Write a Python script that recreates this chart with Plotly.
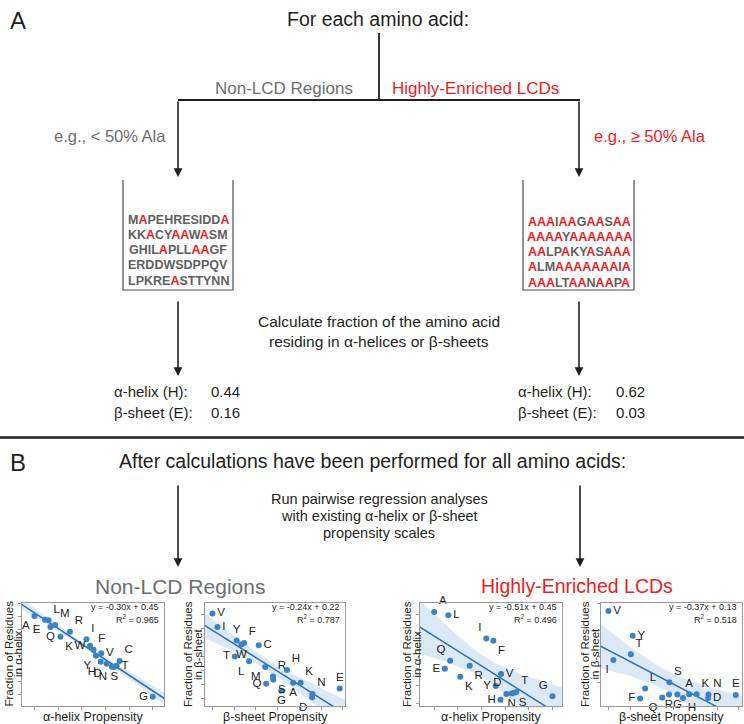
import numpy as np
import plotly.graph_objects as go

W, H = 744, 724
FONT = "Liberation Sans, Arial, sans-serif"
BLACK = "#231f20"
GRAY = "#6d6e71"
RED = "#ed1c24"
BLUE = "#3b82c4"
LINE_BLUE = "#2f6fb0"

# ---------------- data ----------------
amino_acids = ["A", "E", "L", "M", "Q", "R", "K", "I", "W", "F",
               "Y", "V", "H", "D", "C", "N", "S", "T", "G"]
alpha_propensity = [0.00, 0.09, 0.12, 0.175, 0.135, 0.30, 0.22, 0.44, 0.47, 0.50,
                    0.52, 0.565, 0.56, 0.61, 0.72, 0.655, 0.675, 0.695, 1.00]
beta_propensity = [0.260, 0.410, 0.118, 0.170, 0.173, 0.195, 0.284, 0.016, 0.093, 0.102,
                   0.078, 0.000, 0.240, 0.321, 0.149, 0.322, 0.196, 0.072, 0.222]
nonlcd_helix_fraction = [0.450, 0.436, 0.434, 0.416, 0.408, 0.390, 0.371, 0.361, 0.336, 0.321,
                         0.298, 0.307, 0.275, 0.267, 0.278, 0.256, 0.256, 0.259, 0.140]
nonlcd_sheet_fraction = [0.160, 0.153, 0.187, 0.180, 0.159, 0.168, 0.160, 0.230, 0.208, 0.210,
                         0.213, 0.247, 0.176, 0.142, 0.207, 0.146, 0.164, 0.193, 0.150]
lcd_helix_fraction = [0.620, 0.237, 0.598, None, 0.291, 0.257, 0.183, 0.440, None, 0.426,
                      0.120, 0.201, 0.027, 0.066, None, 0.070, 0.074, 0.079, 0.050]
lcd_sheet_fraction = [0.030, 0.028, 0.042, None, 0.023, 0.029, 0.030, 0.102, None, 0.021,
                      0.153, 0.205, 0.022, 0.022, None, 0.029, 0.055, 0.114, 0.029]

equations = ["y = -0.30x + 0.45", "y = -0.24x + 0.22", "y = -0.51x + 0.45", "y = -0.37x + 0.13"]
r_squared = ["0.965", "0.787", "0.496", "0.518"]

nonlcd_sequences = ["MAPEHRESIDDA", "KKACYAAWASM", "GHILAPLLAAGF", "ERDDWSDPPQV", "LPKREASTTYNN"]
lcd_sequences = ["AAAIAAGAASAA", "AAAAYAAAAAAA", "AALPAKYASAAA", "ALMAAAAAAAIA", "AAALTAANAAPA"]
example_values = {"nonlcd": ["0.44", "0.16"], "lcd": ["0.62", "0.03"]}

# ---------------- label placement (styling) ----------------
pos1 = {"A": "bottom left", "E": "bottom left", "L": "top right", "M": "top right", "Q": "bottom center",
        "R": "top right", "K": "bottom right", "I": "top right", "W": "middle left", "F": "top right",
        "Y": "bottom left", "V": "middle right", "H": "bottom left", "D": "bottom left", "C": "top right",
        "N": "bottom left", "S": "bottom center", "T": "middle right", "G": "middle left"}
pos2 = {"V": "middle right", "I": "middle right", "Y": "top center", "F": "top right", "W": "bottom center",
        "C": "middle right", "T": "middle left", "L": "bottom left", "M": "bottom left", "H": "top right",
        "R": "top right", "S": "bottom right", "Q": "middle left", "A": "bottom center", "K": "top right",
        "G": "bottom center", "N": "top right", "D": "bottom left", "E": "top center"}
pos3 = {"A": "top right", "L": "middle right", "I": "top left", "F": "bottom right", "Q": "top left",
        "E": "middle left", "R": "bottom right", "K": "bottom right", "V": "middle right", "Y": "middle left",
        "D": "top left", "N": "bottom center", "S": "bottom right", "T": "top right", "H": "middle left",
        "G": "top left"}
pos4 = {"V": "middle right", "Y": "middle right", "T": "top right", "I": "bottom left", "S": "top right",
        "L": "top right", "F": "middle left", "Q": "bottom left", "R": "bottom center", "G": "bottom center",
        "H": "bottom right", "A": "top center", "K": "top right", "N": "top right", "D": "middle right",
        "E": "top center"}


def px(x):
    return x / W


def py(y):
    return 1 - y / H


fig = go.Figure()

charts = [
    dict(x=alpha_propensity, y=nonlcd_helix_fraction, box=(22, 164), xr=(-0.105, 1.095), yr=(0.105, 0.50),
         dx=0.2, dy=0.05, pos=pos1, xt="α-helix Propensity", yt="in α-helix", tx=(8.5, 18)),
    dict(x=beta_propensity, y=nonlcd_sheet_fraction, box=(205, 345), xr=(-0.024, 0.427), yr=(0.131, 0.26),
         dx=0.07, dy=0.0175, pos=pos2, xt="β-sheet Propensity", yt="in β-sheet", tx=(188, 198)),
    dict(x=alpha_propensity, y=lcd_helix_fraction, box=(420, 562), xr=(-0.12, 1.08), yr=(-0.015, 0.68),
         dx=0.2, dy=0.12, pos=pos3, xt="α-helix Propensity", yt="in α-helix", tx=(407, 416.5)),
    dict(x=beta_propensity, y=lcd_sheet_fraction, box=(601, 742), xr=(-0.024, 0.43), yr=(0.005, 0.222),
         dx=0.07, dy=0.055, pos=pos4, xt="β-sheet Propensity", yt="in β-sheet", tx=(585, 594.5)),
]
TOP, BOT = 603, 706
layout_axes = {}
annotations = []


def add_ann(**kw):
    kw.setdefault("xref", "paper")
    kw.setdefault("yref", "paper")
    annotations.append(kw)


for i, c in enumerate(charts):
    n = i + 1
    xa = "x" if n == 1 else f"x{n}"
    ya = "y" if n == 1 else f"y{n}"
    pairs = [(aa, xv, yv) for aa, xv, yv in zip(amino_acids, c["x"], c["y"]) if yv is not None]
    labels = [p[0] for p in pairs]
    xs = np.array([p[1] for p in pairs])
    ys = np.array([p[2] for p in pairs])
    nn = len(xs)
    slope, inter = np.polyfit(xs, ys, 1)
    resid = ys - (slope * xs + inter)
    s = np.sqrt(np.sum(resid ** 2) / (nn - 2))
    sxx = np.sum((xs - xs.mean()) ** 2)
    tval = 2.11 if nn > 17 else 2.145
    grid = np.linspace(c["xr"][0] - 0.05, c["xr"][1] + 0.05, 120)
    fit = slope * grid + inter
    half = tval * s * np.sqrt(1 / nn + (grid - xs.mean()) ** 2 / sxx)
    fig.add_trace(go.Scatter(x=grid, y=fit - half, mode="lines", line=dict(width=0, color="rgba(0,0,0,0)"),
                             xaxis=xa, yaxis=ya, showlegend=False, hoverinfo="skip"))
    fig.add_trace(go.Scatter(x=grid, y=fit + half, mode="lines", line=dict(width=0, color="rgba(0,0,0,0)"),
                             fill="tonexty", fillcolor="rgba(110,165,220,0.25)",
                             xaxis=xa, yaxis=ya, showlegend=False, hoverinfo="skip"))
    fig.add_trace(go.Scatter(x=grid, y=fit, mode="lines", line=dict(width=1.5, color=LINE_BLUE),
                             xaxis=xa, yaxis=ya, showlegend=False, hoverinfo="skip"))
    fig.add_trace(go.Scatter(x=xs, y=ys, mode="markers+text", text=labels,
                             textposition=[c["pos"][l] for l in labels],
                             textfont=dict(family=FONT, size=11.5, color=BLACK),
                             marker=dict(size=6, color=BLUE), cliponaxis=False,
                             xaxis=xa, yaxis=ya, showlegend=False))
    l, r = c["box"]
    common = dict(showgrid=False, zeroline=False, showticklabels=False, ticks="outside", ticklen=3,
                  tickcolor="#999", showline=True, mirror=True, linecolor="#9a9a9a", linewidth=1)
    layout_axes["xaxis" if n == 1 else f"xaxis{n}"] = dict(domain=[px(l), px(r)], range=list(c["xr"]),
                                                           anchor=ya, dtick=c["dx"], tick0=0, **common)
    layout_axes["yaxis" if n == 1 else f"yaxis{n}"] = dict(domain=[py(BOT), py(TOP)], range=list(c["yr"]),
                                                           anchor=xa, dtick=c["dy"], tick0=0, **common)
    add_ann(x=px(r - 3), y=py(607), text=equations[i], xanchor="right", yanchor="middle",
            showarrow=False, font=dict(family=FONT, size=9, color=BLACK))
    add_ann(x=px(r - 3), y=py(619), text=f"R<sup>2</sup> = {r_squared[i]}", xanchor="right",
            yanchor="middle", showarrow=False, font=dict(family=FONT, size=9, color=BLACK))
    add_ann(x=px((l + r) / 2), y=py(717), text=c["xt"], xanchor="center", yanchor="middle",
            showarrow=False, font=dict(family=FONT, size=12.5, color=BLACK))
    add_ann(x=px(c["tx"][0]), y=py(654), text="Fraction of Residues", textangle=-90, xanchor="center",
            yanchor="middle", showarrow=False, font=dict(family=FONT, size=11.5, color=BLACK))
    add_ann(x=px(c["tx"][1]), y=py(654), text=c["yt"], textangle=-90, xanchor="center",
            yanchor="middle", showarrow=False, font=dict(family=FONT, size=11.5, color=BLACK))


def txt(x, y, text, size, color=BLACK, anchor="center"):
    add_ann(x=px(x), y=py(y), text=text, xanchor=anchor, yanchor="middle", showarrow=False,
            font=dict(family=FONT, size=size, color=color))


def arrow(x, y0, y1):
    add_ann(x=px(x), y=py(y1), ax=0, ay=-(y1 - y0), text="", showarrow=True, arrowhead=2,
            arrowsize=1.1, arrowwidth=1.6, arrowcolor=BLACK)


shapes = []


def line(x0, y0, x1, y1, width=1.8, color=BLACK):
    shapes.append(dict(type="line", xref="paper", yref="paper", x0=px(x0), y0=py(y0), x1=px(x1), y1=py(y1),
                       line=dict(color=color, width=width)))


# ----- Panel A -----
txt(8, 20, "A", 24, anchor="left")
txt(378, 19, "For each amino acid:", 19.5)
line(379, 33, 379, 100)
line(178, 100, 580, 100)
txt(355, 88, "Non-LCD Regions", 17, GRAY, anchor="right")
txt(390, 88, "Highly-Enriched LCDs", 17, RED, anchor="left")
arrow(178, 100, 177)
arrow(579, 100, 177)
txt(168, 136, "e.g., < 50% Ala", 16.5, GRAY, anchor="right")
txt(592, 136, "e.g., ≥ 50% Ala", 16.5, RED, anchor="left")

for (l, r) in [(123, 233), (523, 634)]:
    shapes.append(dict(type="path", xref="paper", yref="paper",
                       path=f"M {px(l)} {py(180)} L {px(l)} {py(290)} L {px(r)} {py(290)} L {px(r)} {py(180)}",
                       line=dict(color="#4d4d4d", width=1.2)))


def colored(seq):
    out = []
    for ch in seq:
        if ch == "A":
            out.append(f"<span style='color:{RED}'>{ch}</span>")
        else:
            out.append(ch)
    return "<b>" + "".join(out) + "</b>"


seq_y = [219.5, 234.7, 250, 265.2, 280.5]
for k, s in enumerate(nonlcd_sequences):
    add_ann(x=px(178), y=py(seq_y[k]), text=colored(s), showarrow=False, xanchor="center",
            yanchor="middle", font=dict(family=FONT, size=12.5, color="#5f6062"))
for k, s in enumerate(lcd_sequences):
    add_ann(x=px(579), y=py(seq_y[k] + 2), text=colored(s), showarrow=False, xanchor="center",
            yanchor="middle", font=dict(family=FONT, size=12.5, color="#5f6062"))

arrow(178, 300, 376)
arrow(579, 300, 376)
txt(379, 322, "Calculate fraction of the amino acid", 15.5)
txt(379, 342, "residing in α-helices or β-sheets", 15.5)

txt(112, 392, "α-helix (H):", 15, anchor="left")
txt(112, 412, "β-sheet (E):", 15, anchor="left")
txt(209, 392, example_values["nonlcd"][0], 15, anchor="left")
txt(209, 412, example_values["nonlcd"][1], 15, anchor="left")
txt(516, 392, "α-helix (H):", 15, anchor="left")
txt(516, 412, "β-sheet (E):", 15, anchor="left")
txt(614, 392, example_values["lcd"][0], 15, anchor="left")
txt(614, 412, example_values["lcd"][1], 15, anchor="left")

line(0, 437.5, 744, 437.5, width=2.5)

# ----- Panel B -----
txt(8, 462, "B", 24, anchor="left")
txt(372, 461, "After calculations have been performed for all amino acids:", 19.5)
txt(379, 499, "Run pairwise regression analyses", 14.5)
txt(379, 516, "with existing α-helix or β-sheet", 14.5)
txt(379, 533, "propensity scales", 14.5)
arrow(178, 484, 567)
arrow(580, 484, 567)
txt(180, 586, "Non-LCD Regions", 21, GRAY)
txt(577, 586, "Highly-Enriched LCDs", 19.5, RED)

fig.update_layout(width=W, height=H, margin=dict(l=0, r=0, t=0, b=0), paper_bgcolor="white",
                  plot_bgcolor="white", showlegend=False, shapes=shapes, annotations=annotations,
                  font=dict(family=FONT), **layout_axes)

fig.write_html("out.html", config={"displayModeBar": False},
               post_script="document.body.style.margin='0';")
